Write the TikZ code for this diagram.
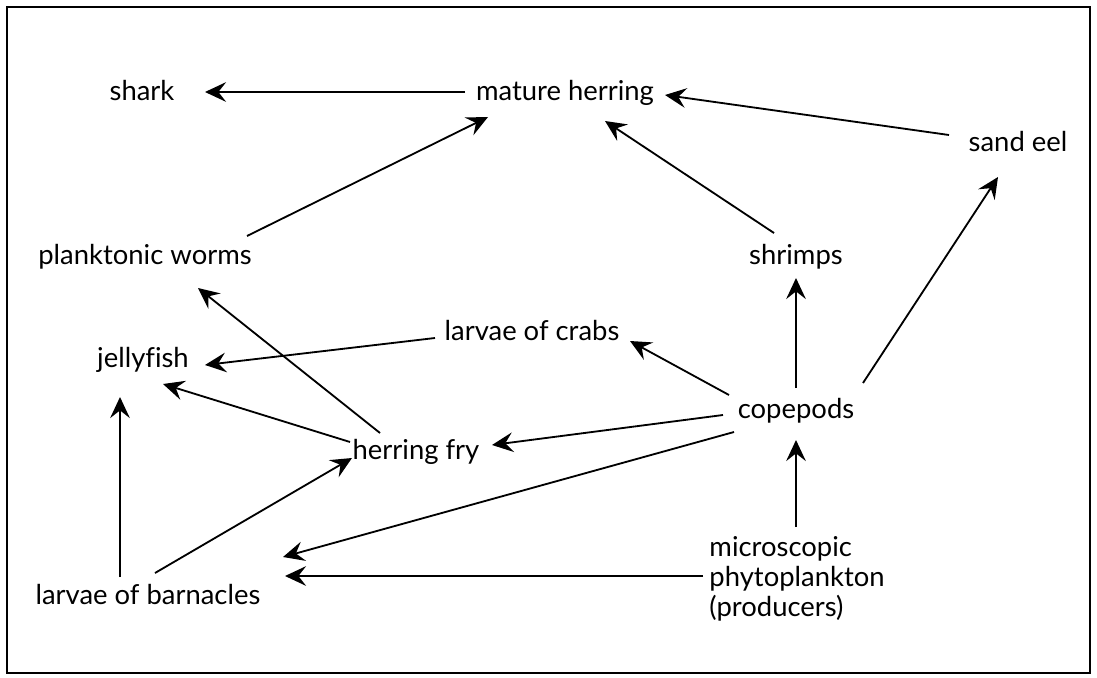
\documentclass[tikz,border=0pt]{standalone}
\usepackage{fontspec}
\setmainfont{Lato}[Ligatures=NoCommon]
\usepackage{tikz}
\usetikzlibrary{arrows.meta,calc}

\begin{document}
\begin{tikzpicture}[
    x=0.025cm, y=-0.025cm,
    every node/.style={font=\fontsize{19.5}{21.3}\selectfont},
    organism/.style={inner sep=0pt, text height=14pt, text depth=4pt},
    eats/.style={-{Stealth[length=15pt,width=14pt,inset=5.5pt]}, line width=1.3pt},
  ]
  \useasboundingbox (0,0) rectangle (1097,677);
  \draw[line width=1.8pt] (7,7) rectangle (1090,673);

  % top row
  \node[organism] (shark) at (142,93) {shark};
  \node[organism] (herring) at (565,93) {mature herring};
  \node[organism] (sandeel) at (1018,144) {sand eel};
  % middle
  \node[organism] (worms) at (145,257) {planktonic worms};
  \node[organism] (shrimps) at (796,257) {shrimps};
  \node[organism] (crabs) at (532,333) {larvae of crabs};
  \node[organism] (jelly) at (143,360) {jellyfish};
  \node[organism] (copepods) at (796,411) {copepods};
  \node[organism] (fry) at (416,452) {herring fry};
  % bottom
  \node[align=left, inner sep=0pt] (phyto) at (797,579)
    {microscopic\\phytoplankton\\(producers)};
  \node[organism] (barnacles) at (148,597) {larvae of barnacles};

  \draw[eats] ($(herring)+(-100,-1)$) -- ($(shark)+(63,-1)$);
  \draw[eats] ($(worms)+(102,-21)$) -- ($(herring)+(-77,24)$);
  \draw[eats] ($(sandeel)+(-69,-9)$) -- ($(herring)+(100,2)$);
  \draw[eats] ($(shrimps)+(-22,-24)$) -- ($(herring)+(40,28)$);
  \draw[eats] ($(copepods)+(0,-23)$) -- ($(shrimps)+(0,21)$);
  \draw[eats] ($(copepods)+(67,-28)$) -- ($(sandeel)+(-20,33)$);
  \draw[eats] ($(copepods)+(-67,-16)$) -- ($(crabs)+(98,8)$);
  \draw[eats] ($(crabs)+(-97,5)$) -- ($(jelly)+(62,5)$);
  \draw[eats] ($(fry)+(-36,-19)$) -- ($(worms)+(53,31)$);
  \draw[eats] ($(fry)+(-66,-10)$) -- ($(jelly)+(20,24)$);
  \draw[eats] ($(copepods)+(-73,4)$) -- ($(fry)+(76,-7)$);
  \draw[eats] ($(copepods)+(-62,21)$) -- ($(barnacles)+(135,-40)$);
  \draw[eats] ($(phyto)+(-1,-52)$) -- ($(copepods)+(0,29)$);
  \draw[eats] ($(phyto)+(-94,-3)$) -- ($(barnacles)+(137,-21)$);
  \draw[eats] ($(barnacles)+(7,-24)$) -- ($(fry)+(-64,6)$);
  \draw[eats] ($(barnacles)+(-28,-20)$) -- ($(jelly)+(-23,37)$);
\end{tikzpicture}
\end{document}
